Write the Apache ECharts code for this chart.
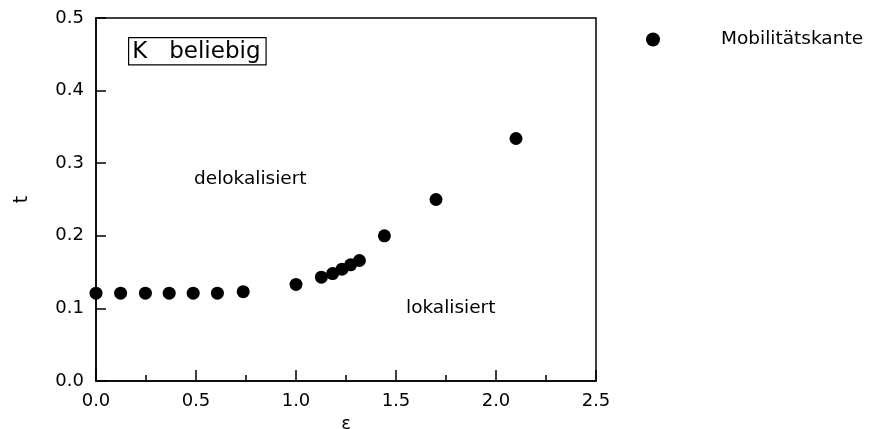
<!DOCTYPE html>
<html>
<head>
<meta charset="utf-8">
<script src="https://cdn.jsdelivr.net/npm/echarts@6/dist/echarts.min.js"></script>
<style>
  html, body { margin: 0; padding: 0; background: #fff; }
  #chart { width: 875px; height: 429px; }
</style>
</head>
<body>
<div id="chart"></div>
<script>
// Mobility edge: critical t as a function of epsilon
const epsValues = [0, 0.123, 0.247, 0.366, 0.486, 0.607, 0.736, 1.0, 1.127, 1.183, 1.23, 1.273, 1.317, 1.442, 1.70, 2.10];
const tValues   = [0.121, 0.121, 0.121, 0.121, 0.121, 0.121, 0.123, 0.133, 0.143, 0.148, 0.154, 0.160, 0.166, 0.200, 0.250, 0.334];
const seriesName = 'Mobilitätskante';
const xTicks = ['0.0', '0.5', '1.0', '1.5', '2.0', '2.5'];
const yTicks = ['0.0', '0.1', '0.2', '0.3', '0.4', '0.5'];

const FONT = '"DejaVu Sans", sans-serif';
const chart = echarts.init(document.getElementById('chart'));

const points = epsValues.map((e, i) => [e, tValues[i]]);

chart.setOption({
  animation: false,
  backgroundColor: '#fff',
  grid: { left: 96, top: 18, width: 500, height: 363, outerBoundsMode: 'none', containLabel: false,
    show: true, borderColor: '#000', borderWidth: 1.5, backgroundColor: 'transparent' },
  xAxis: {
    type: 'value', min: 0, max: 2.5, interval: 0.5,
    name: 'ε', nameLocation: 'middle', nameGap: 29,
    nameTextStyle: { fontFamily: FONT, fontSize: 18, color: '#000' },
    axisLine: { lineStyle: { color: '#000', width: 1.5 } },
    axisTick: { inside: true, length: 11, lineStyle: { color: '#000', width: 1.5 } },
    minorTick: { show: true, splitNumber: 2, length: 6, lineStyle: { color: '#000', width: 1.5 } },
    splitLine: { show: false },
    axisLabel: { fontFamily: FONT, fontSize: 18, color: '#000', margin: 11,
      formatter: v => xTicks[Math.round(v / 0.5)] }
  },
  yAxis: {
    type: 'value', min: 0, max: 0.5, interval: 0.1,
    name: 't', nameLocation: 'middle', nameGap: 64, nameRotate: 90,
    nameTextStyle: { fontFamily: FONT, fontSize: 19, color: '#000' },
    axisLine: { lineStyle: { color: '#000', width: 1.5 } },
    axisTick: { inside: true, length: 10, lineStyle: { color: '#000', width: 1.5 } },
    splitLine: { show: false },
    axisLabel: { fontFamily: FONT, fontSize: 18, color: '#000', margin: 12,
      formatter: v => yTicks[Math.round(v / 0.1)] }
  },
  legend: {
    left: 646, top: 30, padding: 0,
    itemWidth: 14, itemHeight: 14, icon: 'circle',
    data: [seriesName],
    textStyle: { fontFamily: FONT, fontSize: 18.5, color: '#000', padding: [0, 0, 0, 56] }
  },
  series: [{
    name: seriesName, type: 'scatter', data: points,
    symbol: 'circle', symbolSize: 13,
    itemStyle: { color: '#000', opacity: 1 },
    clip: false
  }],
  graphic: [
    { type: 'text', left: 128, top: 37, z: 10,
      style: { text: 'K   beliebig', font: '23px ' + FONT, fill: '#000',
        borderColor: '#000', borderWidth: 1.2, padding: [2, 5, 1, 3], backgroundColor: '#fff' } },
    { type: 'text', left: 194, top: 170, z: 10,
      style: { text: 'delokalisiert', font: '18.5px ' + FONT, fill: '#000' } },
    { type: 'text', left: 406, top: 299, z: 10,
      style: { text: 'lokalisiert', font: '18.5px ' + FONT, fill: '#000' } }
  ]
});
</script>
</body>
</html>
